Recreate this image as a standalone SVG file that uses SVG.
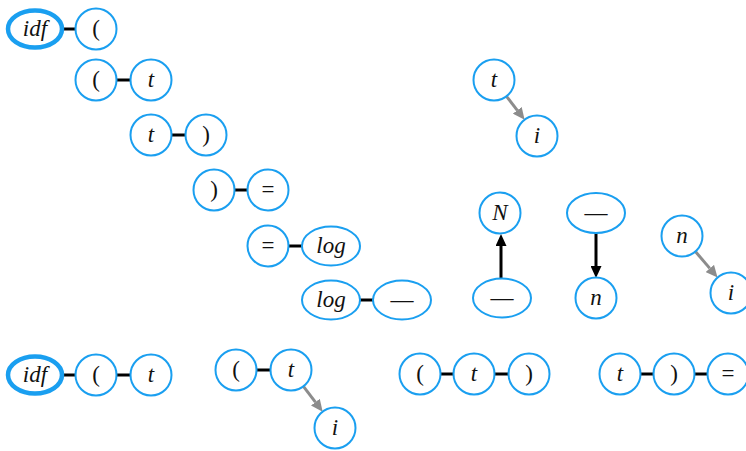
<svg xmlns="http://www.w3.org/2000/svg" width="746" height="451" viewBox="0 0 746 451">
<style>
.n{fill:#fff;stroke:#1a9ff0;stroke-width:2}
.b{fill:#fff;stroke:#1a9ff0;stroke-width:4.5}
text{font-family:"Liberation Serif","DejaVu Serif",serif;font-size:23px;text-anchor:middle;fill:#111}
.i{font-style:italic}
.e{stroke:#000;stroke-width:3;fill:none}
.g{stroke:#8c8c8c;stroke-width:3;fill:none;marker-end:url(#ag)}
.k{stroke:#000;stroke-width:3;fill:none;marker-end:url(#ak)}
</style>
<defs>
<marker id="ag" markerUnits="userSpaceOnUse" markerWidth="12" markerHeight="11" refX="0" refY="5.5" orient="auto" viewBox="0 0 12 11"><path d="M0,0L12,5.5L0,11z" fill="#8c8c8c"/></marker>
<marker id="ak" markerUnits="userSpaceOnUse" markerWidth="12" markerHeight="11" refX="0" refY="5.5" orient="auto" viewBox="0 0 12 11"><path d="M0,0L12,5.5L0,11z" fill="#000"/></marker>
</defs>
<g id="connectors">
<line class="e" x1="62" y1="29" x2="76" y2="29"/>
<line class="e" x1="116" y1="80" x2="131" y2="80"/>
<line class="e" x1="171" y1="135" x2="186" y2="135"/>
<line class="e" x1="234" y1="190" x2="248" y2="190"/>
<line class="e" x1="288" y1="246" x2="302" y2="246"/>
<line class="e" x1="360" y1="300" x2="373" y2="300"/>
<line class="e" x1="62" y1="375" x2="76" y2="375"/>
<line class="e" x1="116" y1="375" x2="131" y2="375"/>
<line class="e" x1="256" y1="370" x2="271" y2="370"/>
<line class="e" x1="440" y1="374" x2="454" y2="374"/>
<line class="e" x1="494" y1="374" x2="509" y2="374"/>
<line class="e" x1="640" y1="374" x2="654" y2="374"/>
<line class="e" x1="694" y1="374" x2="708" y2="374"/>
<path class="g" d="M506.5,96.3L517.3,110.3"/>
<path class="g" d="M695.4,251.5L709.8,268.4"/>
<path class="g" d="M303.4,386.3L315.4,402.1"/>
<path class="k" d="M501,278L501,246"/>
<path class="k" d="M596,233L596,266"/>
</g>
<g id="n1"><ellipse class="b" cx="35" cy="29" rx="27" ry="18.5"/><text class="i" x="35" y="36">idf</text></g>
<g id="n2"><circle class="n" cx="96" cy="29" r="20.5"/><text x="96" y="36">(</text></g>
<g id="n3"><circle class="n" cx="96" cy="80" r="20.5"/><text x="96" y="87">(</text></g>
<g id="n4"><circle class="n" cx="151" cy="80" r="20.5"/><text class="i" x="151" y="87">t</text></g>
<g id="n5"><circle class="n" cx="151" cy="135" r="20.5"/><text class="i" x="151" y="142">t</text></g>
<g id="n6"><circle class="n" cx="206" cy="135" r="20.5"/><text x="206" y="142">)</text></g>
<g id="n7"><circle class="n" cx="214" cy="190" r="20.5"/><text x="214" y="197">)</text></g>
<g id="n8"><circle class="n" cx="268" cy="190" r="20.5"/><text x="268" y="197">=</text></g>
<g id="n9"><circle class="n" cx="268" cy="246" r="20.5"/><text x="268" y="253">=</text></g>
<g id="n10"><ellipse class="n" cx="331" cy="246" rx="29" ry="19.5"/><text class="i" x="331" y="253">log</text></g>
<g id="n11"><ellipse class="n" cx="331" cy="300" rx="29" ry="19.5"/><text class="i" x="331" y="307">log</text></g>
<g id="n12"><ellipse class="n" cx="402" cy="300" rx="29" ry="19.5"/><text x="402" y="307">—</text></g>
<g id="n13"><circle class="n" cx="494" cy="80" r="20.5"/><text class="i" x="494" y="87">t</text></g>
<g id="n14"><circle class="n" cx="537" cy="136" r="20.5"/><text class="i" x="537" y="143">i</text></g>
<g id="n15"><circle class="n" cx="500" cy="213" r="20.5"/><text class="i" x="500" y="220">N</text></g>
<g id="n16"><ellipse class="n" cx="502" cy="298" rx="29" ry="19.5"/><text x="502" y="305">—</text></g>
<g id="n17"><ellipse class="n" cx="596" cy="213" rx="29" ry="20"/><text x="596" y="220">—</text></g>
<g id="n18"><circle class="n" cx="596" cy="298" r="20.5"/><text class="i" x="596" y="305">n</text></g>
<g id="n19"><circle class="n" cx="682" cy="236" r="20.5"/><text class="i" x="682" y="243">n</text></g>
<g id="n20"><circle class="n" cx="731" cy="293" r="20.5"/><text class="i" x="731" y="300">i</text></g>
<g id="n21"><ellipse class="b" cx="35" cy="375" rx="27" ry="18.5"/><text class="i" x="35" y="382">idf</text></g>
<g id="n22"><circle class="n" cx="96" cy="375" r="20.5"/><text x="96" y="382">(</text></g>
<g id="n23"><circle class="n" cx="151" cy="375" r="20.5"/><text class="i" x="151" y="382">t</text></g>
<g id="n24"><circle class="n" cx="236" cy="370" r="20.5"/><text x="236" y="377">(</text></g>
<g id="n25"><circle class="n" cx="291" cy="370" r="20.5"/><text class="i" x="291" y="377">t</text></g>
<g id="n26"><circle class="n" cx="335" cy="428" r="20.5"/><text class="i" x="335" y="435">i</text></g>
<g id="n27"><circle class="n" cx="420" cy="374" r="20.5"/><text x="420" y="381">(</text></g>
<g id="n28"><circle class="n" cx="474" cy="374" r="20.5"/><text class="i" x="474" y="381">t</text></g>
<g id="n29"><circle class="n" cx="529" cy="374" r="20.5"/><text x="529" y="381">)</text></g>
<g id="n30"><circle class="n" cx="620" cy="374" r="20.5"/><text class="i" x="620" y="381">t</text></g>
<g id="n31"><circle class="n" cx="674" cy="374" r="20.5"/><text x="674" y="381">)</text></g>
<g id="n32"><circle class="n" cx="728" cy="374" r="20.5"/><text x="728" y="381">=</text></g>
</svg>
